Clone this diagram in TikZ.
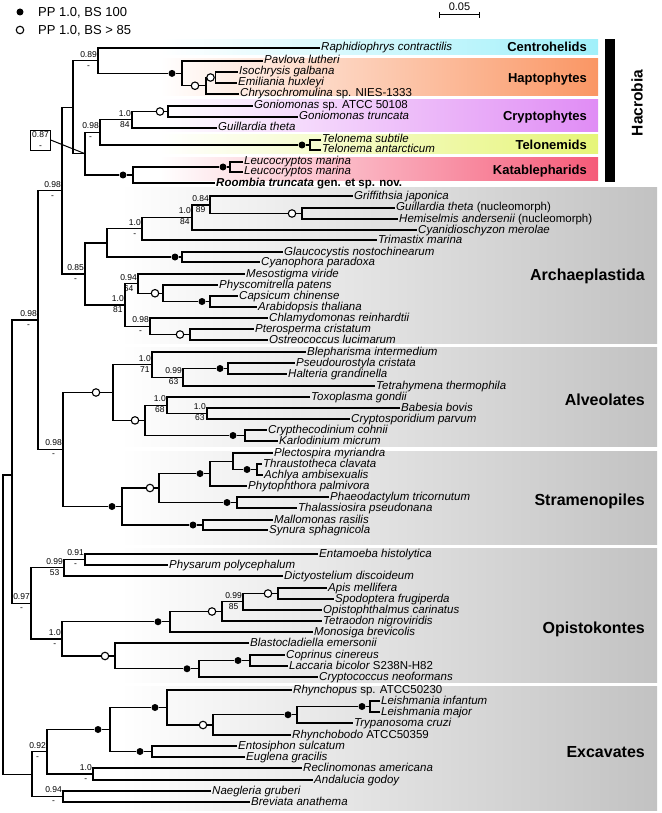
\documentclass[tikz,border=0pt]{standalone}
\usepackage{fontspec}
\setmainfont{Liberation Sans}
\usetikzlibrary{arrows.meta,positioning,calc}
\definecolor{centro}{HTML}{A0F0FA}
\definecolor{hapto}{HTML}{FA9664}
\definecolor{crypto}{HTML}{E08CF5}
\definecolor{telo}{HTML}{E6F578}
\definecolor{katab}{HTML}{F55A78}
\definecolor{cladegrey}{HTML}{C2C2C2}

\begin{document}
\begin{tikzpicture}[x=1pt,y=-1pt,
  branch/.style={line width=1.2pt},
  leaf/.style={anchor=west,inner xsep=1pt,inner ysep=0pt,text height=8.5pt,text depth=2.5pt,
               font=\fontsize{11.5}{12}\selectfont\itshape},
  pp100/.style={circle,fill=black,inner sep=0pt,minimum size=7pt},
  pp85/.style={circle,draw=black,line width=1.1pt,fill=white,inner sep=0pt,minimum size=7.5pt},
  supp/.style={anchor=east,align=center,inner sep=1pt,yshift=1pt,font=\fontsize{8.5}{11}\selectfont},
  grp/.style={anchor=east,inner sep=0pt,text height=9.3pt,text depth=0pt,font=\fontsize{13}{14}\selectfont\bfseries},
  biggrp/.style={anchor=east,inner sep=0pt,text height=11.5pt,text depth=0pt,font=\fontsize{16}{18}\selectfont\bfseries},
  key/.style={anchor=west,inner sep=0pt,text height=9.3pt,text depth=0pt,font=\fontsize{13}{14}\selectfont}
]
\useasboundingbox (0,0) rectangle (661,813);

\shade[left color=white,right color=centro] (160,40) rectangle (598,55);
\shade[left color=white,right color=hapto] (160,59) rectangle (598,96);
\shade[left color=white,right color=crypto] (160,100) rectangle (598,132);
\shade[left color=white,right color=telo] (160,135) rectangle (598,154);
\shade[left color=white,right color=katab] (160,158) rectangle (598,181);
\shade[left color=white,right color=cladegrey] (120,187) rectangle (657,343);
\shade[left color=white,right color=cladegrey] (120,347) rectangle (657,446);
\shade[left color=white,right color=cladegrey] (120,451) rectangle (657,544);
\shade[left color=white,right color=cladegrey] (120,548) rectangle (657,682);
\shade[left color=white,right color=cladegrey] (120,686) rectangle (657,810);

\node[grp] (gcen) at (587,47) {Centrohelids};
\node[grp] (ghap) at (587,78) {Haptophytes};
\node[grp] (gcry) at (587,116) {Cryptophytes};
\node[grp] (gtel) at (587,145) {Telonemids};
\node[grp] (gkat) at (587,170) {Katablepharids};
\node[biggrp] (garc) at (645,275) {Archaeplastida};
\node[biggrp] (galv) at (645,400) {Alveolates};
\node[biggrp] (gstr) at (645,500) {Stramenopiles};
\node[biggrp] (gopi) at (645,628) {Opistokontes};
\node[biggrp] (gexc) at (645,752) {Excavates};
\fill (605,39) rectangle (615,182);
\node[rotate=90,font=\fontsize{15.5}{17}\selectfont\bfseries] (hacrobia) at (637,103) {Hacrobia};

\node[pp100] (k1) at (20,12) {};
\node[key] (k1t) at (38,12) {PP 1.0, BS 100};
\node[pp85] (k2) at (20,30) {};
\node[key] (k2t) at (38,30) {PP 1.0, BS > 85};

\coordinate (sbl) at (439,15);
\coordinate (sbr) at (480,15);
\draw[line width=1pt,{Bar[width=6pt]}-{Bar[width=6pt]}] (sbl) -- (sbr);
\node[font=\fontsize{11}{12}\selectfont,inner sep=1pt] (sbt) at (459.5,7) {0.05};

\foreach \nm/\xx/\yy/\txt in {
  l1/320/48/Raphidiophrys contractilis,
  l2/263/61/Pavlova lutheri,
  l3/238/72/Isochrysis galbana,
  l4/237/83/Emiliania huxleyi,
  l5/239/94/{Chrysochromulina \upshape sp. NIES-1333},
  l6/253/106/{Goniomonas \upshape sp. ATCC 50108},
  l7/298/117/Goniomonas truncata,
  l8/217/128/Guillardia theta,
  l9/321/140/Telonema subtile,
  l10/321/150/Telonema antarcticum,
  l11/243/162/Leucocryptos marina,
  l12/243/172/Leucocryptos marina,
  l13/215/183/{\bfseries Roombia truncata \upshape gen. et sp. nov.},
  l14/353/196/Griffithsia japonica,
  l15/395/208/{Guillardia theta \upshape(nucleomorph)},
  l16/398/219/{Hemiselmis andersenii \upshape(nucleomorph)},
  l17/417/230/Cyanidioschyzon merolae,
  l18/377/240/Trimastix marina,
  l19/283/252/Glaucocystis nostochinearum,
  l20/260/262/Cyanophora paradoxa,
  l21/245/274/Mesostigma viride,
  l22/218/285/Physcomitrella patens,
  l23/238/296/Capsicum chinense,
  l24/257/307/Arabidopsis thaliana,
  l25/268/318/Chlamydomonas reinhardtii,
  l26/254/329/Pterosperma cristatum,
  l27/268/340/Ostreococcus lucimarum,
  l28/306/352/Blepharisma intermedium,
  l29/295/363/Pseudourostyla cristata,
  l30/287/374/Halteria grandinella,
  l31/375/386/Tetrahymena thermophila,
  l32/310/397/Toxoplasma gondii,
  l33/400/408/Babesia bovis,
  l34/350/419/Cryptosporidium parvum,
  l35/267/430/Crypthecodinium cohnii,
  l36/278/441/Karlodinium micrum,
  l37/273/453/Plectospira myriandra,
  l38/262/464/Thraustotheca clavata,
  l39/263/475/Achlya ambisexualis,
  l40/247/486/Phytophthora palmivora,
  l41/329/497/Phaeodactylum tricornutum,
  l42/297/508/Thalassiosira pseudonana,
  l43/273/520/Mallomonas rasilis,
  l44/268/530/Synura sphagnicola,
  l45/318/554/Entamoeba histolytica,
  l46/168/565/Physarum polycephalum,
  l47/283/576/Dictyostelium discoideum,
  l48/327/588/Apis mellifera,
  l49/334/599/Spodoptera frugiperda,
  l50/322/610/Opistophthalmus carinatus,
  l51/322/621/Tetraodon nigroviridis,
  l52/313/632/Monosiga brevicolis,
  l53/249/643/Blastocladiella emersonii,
  l54/285/655/Coprinus cinereus,
  l55/288/666/{Laccaria bicolor \upshape S238N-H82},
  l56/318/677/Cryptococcus neoformans,
  l57/292/690/{Rhynchopus \upshape sp. ATCC50230},
  l58/380/701/Leishmania infantum,
  l59/380/712/Leishmania major,
  l60/353/723/Trypanosoma cruzi,
  l61/291/735/{Rhynchobodo \upshape ATCC50359},
  l62/237/746/Entosiphon sulcatum,
  l63/245/757/Euglena gracilis,
  l64/302/768/Reclinomonas americana,
  l65/313/780/Andalucia godoy,
  l66/211/791/Naegleria gruberi,
  l67/250/802/Breviata anathema}
  \node[leaf] (\nm) at (\xx,\yy) {\txt};

\coordinate (hap3) at (215.5,77.5);
\coordinate (hap2) at (206,85.75);
\coordinate (hap1) at (182,73.4);
\coordinate (n089) at (98,60.7);
\coordinate (gon) at (168,111.5);
\coordinate (cry) at (132,119.75);
\coordinate (tel) at (310,145);
\coordinate (n098a) at (100,132.4);
\coordinate (leu) at (230,167);
\coordinate (kat) at (133,175);
\coordinate (nkb) at (85,153.7);
\coordinate (hacro) at (73,107.2);
\coordinate (n098b) at (62,190.6);
\coordinate (nm) at (302,213.5);
\coordinate (s084) at (210,205);
\coordinate (r10) at (192,217.5);
\coordinate (q10) at (142,228.75);
\coordinate (gla) at (182,257);
\coordinate (pla) at (107,243);
\coordinate (ang) at (210,301.5);
\coordinate (emb) at (163,293.25);
\coordinate (str094) at (138,283.6);
\coordinate (mam) at (190,334.5);
\coordinate (chl) at (150,326.25);
\coordinate (gre) at (125,304.9);
\coordinate (n085) at (85,274);
\coordinate (alv1) at (228,368.5);
\coordinate (n099a) at (183,377.25);
\coordinate (n10a) at (152,364.6);
\coordinate (n10c) at (207,413.5);
\coordinate (n10b) at (167,405.25);
\coordinate (dino) at (245,435.5);
\coordinate (api) at (145,420.4);
\coordinate (alv) at (113,392.5);
\coordinate (sap) at (257,469.5);
\coordinate (pyth) at (233,461.25);
\coordinate (oom) at (210,473.6);
\coordinate (dia) at (237,502.5);
\coordinate (het) at (159,488);
\coordinate (syn) at (203,525);
\coordinate (stra) at (122,506.5);
\coordinate (n098c) at (63,449.5);
\coordinate (n098d) at (38,320);
\coordinate (n091) at (85,559.5);
\coordinate (n099b) at (64,567.75);
\coordinate (ins) at (278,593.5);
\coordinate (n099c) at (243,601.75);
\coordinate (met) at (222,611.5);
\coordinate (hol) at (170,621.75);
\coordinate (aga) at (250,660.5);
\coordinate (bas) at (199,668.75);
\coordinate (fun) at (115,656);
\coordinate (opi) at (62,638.9);
\coordinate (n097) at (31,603.3);
\coordinate (lei) at (370,706.5);
\coordinate (tryp) at (297,714.75);
\coordinate (kin) at (213,725);
\coordinate (kin1) at (167,707.5);
\coordinate (eug) at (152,751.5);
\coordinate (eugz) at (110,729.5);
\coordinate (n10d) at (93,774);
\coordinate (n092) at (47,751.75);
\coordinate (n094) at (63,796.5);
\coordinate (exc) at (32,774.1);
\coordinate (n0) at (12,475);
\coordinate (root) at (3,624);

\node[pp100] (d1) at (172,73.4) {};
\node[pp85] (d2) at (195,85.75) {};
\node[pp85] (d3) at (210.5,77.5) {};
\node[pp85] (d4) at (160,111.5) {};
\node[pp100] (d5) at (302,145) {};
\node[pp100] (d6) at (223,167) {};
\node[pp100] (d7) at (123,175) {};
\node[pp85] (d8) at (292,213.5) {};
\node[pp100] (d9) at (175,257) {};
\node[pp100] (d10) at (202,301.5) {};
\node[pp85] (d11) at (155,293.25) {};
\node[pp85] (d12) at (180,334.5) {};
\node[pp100] (d13) at (220,368.5) {};
\node[pp100] (d14) at (233,435.5) {};
\node[pp85] (d15) at (135,420.4) {};
\node[pp85] (d16) at (96,392.5) {};
\node[pp100] (d17) at (247,469.5) {};
\node[pp100] (d18) at (200,473.6) {};
\node[pp100] (d19) at (227,502.5) {};
\node[pp85] (d20) at (150,488) {};
\node[pp100] (d21) at (193,525) {};
\node[pp100] (d22) at (112,506.5) {};
\node[pp85] (d23) at (268,593.5) {};
\node[pp85] (d24) at (212,611.5) {};
\node[pp100] (d25) at (158,621.75) {};
\node[pp100] (d26) at (238,660.5) {};
\node[pp100] (d27) at (187,668.75) {};
\node[pp85] (d28) at (105,656) {};
\node[pp100] (d29) at (362,706.5) {};
\node[pp100] (d30) at (288,714.75) {};
\node[pp85] (d31) at (203,725) {};
\node[pp100] (d32) at (155,707.5) {};
\node[pp100] (d33) at (140,751.5) {};
\node[pp100] (d34) at (98,729.5) {};

\foreach \p/\c in {n089/l1, hap1/l2, hap2/l5, hap3/l3, hap3/l4, hacro/n089, hacro/nkb,
  nkb/n098a, n098a/cry, cry/l8, gon/l6, gon/l7, tel/l9, tel/l10, leu/l11, leu/l12, kat/l13,
  n098b/hacro, n098b/n085, nm/l15, nm/l16, s084/l14, r10/s084, r10/l17, q10/r10, q10/l18,
  gla/l19, gla/l20, pla/q10, ang/l23, ang/l24, emb/l22, str094/l21, mam/l26, mam/l27,
  chl/l25, gre/str094, gre/chl, n085/pla, n085/gre,
  alv1/l29, alv1/l30, n099a/l31, n10a/l28, n10a/n099a, n10c/l33, n10c/l34, n10b/l32,
  n10b/n10c, dino/l35, dino/l36, api/n10b, alv/n10a,
  sap/l38, sap/l39, pyth/l37, oom/pyth, oom/l40, dia/l41, dia/l42, syn/l43, syn/l44,
  n098d/n098b, n098d/n098c,
  n091/l45, n091/l46, n099b/n091, n099b/l47, ins/l48, ins/l49, n099c/l50, met/n099c,
  met/l51, hol/l52, aga/l54, aga/l55, bas/l56, fun/l53, n097/n099b, n097/opi,
  lei/l58, lei/l59, tryp/l60, kin/l61, kin1/l57, eug/l62, eug/l63, n10d/l64, n10d/l65,
  n092/n10d, n094/l66, n094/l67, exc/n092, exc/n094,
  n0/n098d, n0/n097, root/n0, root/exc}
  \draw[branch] (\p) |- (\c);

\foreach \p/\d/\c in {n089/d1/hap1, hap1/d2/hap2, hap2/d3/hap3, cry/d4/gon, n098a/d5/tel,
  kat/d6/leu, nkb/d7/kat, s084/d8/nm, pla/d9/gla, emb/d10/ang, str094/d11/emb, chl/d12/mam,
  n099a/d13/alv1, api/d14/dino, alv/d15/api, n098c/d16/alv,
  pyth/d17/sap, het/d18/oom, het/d19/dia, stra/d20/het, stra/d21/syn, n098c/d22/stra,
  n099c/d23/ins, hol/d24/met, opi/d25/hol, bas/d26/aga, fun/d27/bas, opi/d28/fun,
  tryp/d29/lei, kin/d30/tryp, kin1/d31/kin, eugz/d32/kin1, eugz/d33/eug, n092/d34/eugz}
  \draw[branch] (\p) |- (\d) -- (\c);

\foreach \c/\up/\dn in {n089/0.89/-, cry/1.0/84, n098a/0.98/-, n098b/0.98/-, s084/0.84/89,
  r10/1.0/84, q10/1.0/-, n085/0.85/-, str094/0.94/64, gre/1.0/81, chl/0.98/-,
  n10a/1.0/71, n099a/0.99/63, n10b/1.0/68, n10c/1.0/63, n098c/0.98/-, n098d/0.98/-,
  n091/0.91/-, n099b/0.99/53, n099c/0.99/85, opi/1.0/-, n097/0.97/-,
  n10d/1.0/-, n092/0.92/-, n094/0.94/-}
  \node[supp] (s\c) at (\c) {\up\\\dn};

\node[draw,line width=0.8pt,align=center,inner sep=1.5pt,font=\fontsize{8.5}{11}\selectfont] (box087) at (40.5,140) {0.87\\-};
\draw[line width=1pt] (box087.east) -- (nkb);
\end{tikzpicture}
\end{document}
